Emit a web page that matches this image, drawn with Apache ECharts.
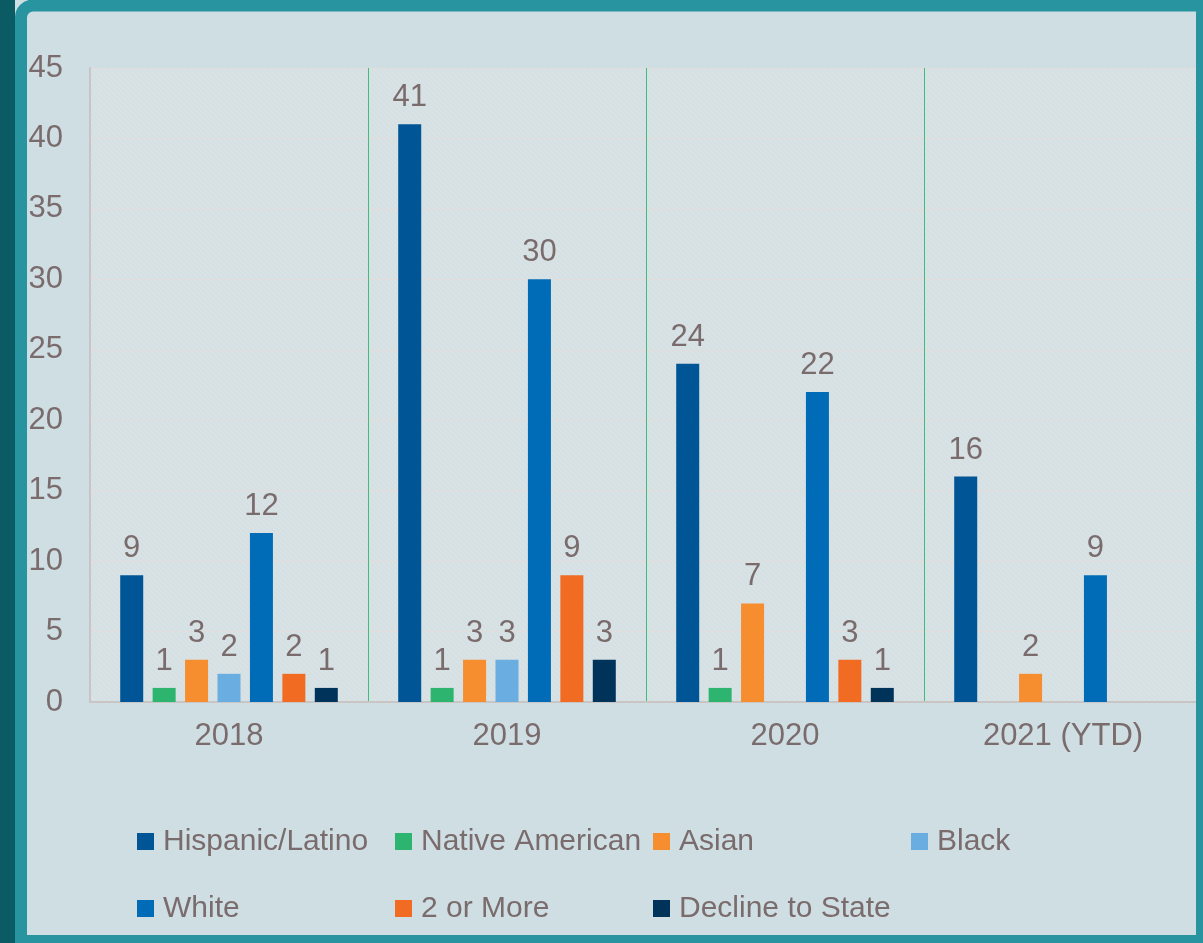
<!DOCTYPE html>
<html>
<head>
    <meta charset="utf-8"/>
    <title>Ethnicity by year</title>
    <script src="https://cdn.jsdelivr.net/npm/echarts@6/dist/echarts.min.js"></script>
    <style>
        html, body { margin: 0; padding: 0; background: #cfdee3; }
        #main { width: 1203px; height: 943px; }
    </style>
</head>
<body>
<div id="main"></div>
<script type="text/javascript">
    // data
    var years = ['2018', '2019', '2020', '2021 (YTD)'];
    var hispanic = [9, 41, 24, 16];
    var nativeAm = [1, 1, 1, null];
    var asian = [3, 3, 7, 2];
    var black = [2, 3, null, null];
    var white = [12, 30, 22, 9];
    var twoOrMore = [2, 9, 3, null];
    var decline = [1, 3, 1, null];
    var yTicks = [0, 5, 10, 15, 20, 25, 30, 35, 40, 45];

    var names = ['Hispanic/Latino', 'Native American', 'Asian', 'Black', 'White', '2 or More', 'Decline to State'];
    var values = [hispanic, nativeAm, asian, black, white, twoOrMore, decline];
    var colors = ['#005596', '#2db46f', '#f68d2e', '#6aade0', '#006cb7', '#f26b23', '#00335a'];

    var textColor = '#7a6b6c';
    var font = 'Liberation Sans';

    // hatched background of the plot area
    var tile = document.createElement('canvas');
    tile.width = 5;
    tile.height = 5;
    var ctx = tile.getContext('2d');
    ctx.fillStyle = '#d3e0e4';
    ctx.fillRect(0, 0, 5, 5);
    ctx.strokeStyle = '#dde3e5';
    ctx.lineWidth = 1.3;
    for (var k = -5; k <= 5; k += 5) {
        ctx.beginPath();
        ctx.moveTo(k, 0);
        ctx.lineTo(k + 5, 5);
        ctx.stroke();
    }

    var chart = echarts.init(document.getElementById('main'));

    var series = [];
    for (var i = 0; i < names.length; i++) {
        series.push({
            name: names[i],
            type: 'bar',
            data: values[i],
            barWidth: 23,
            barGap: '41%',
            itemStyle: {color: colors[i]},
            label: {
                show: true,
                position: 'top',
                distance: 11,
                color: textColor,
                fontFamily: font,
                fontSize: 31
            }
        });
    }

    // legend laid out as a 4-column grid
    var legendPos = [[137, 826], [395, 826], [653, 826], [911, 826], [137, 893], [395, 893], [653, 893]];
    var legends = [];
    for (var j = 0; j < names.length; j++) {
        legends.push({
            data: [names[j]],
            left: legendPos[j][0],
            top: legendPos[j][1],
            padding: 0,
            icon: 'rect',
            itemWidth: 17,
            itemHeight: 17,
            selectedMode: false,
            textStyle: {
                color: textColor,
                fontFamily: font,
                fontSize: 30,
                lineHeight: 31,
                padding: [0, 0, 0, 4]
            }
        });
    }

    chart.setOption({
        backgroundColor: '#cfdee3',
        animation: false,
        legend: legends,
        grid: {
            left: 90,
            right: 1,
            top: 68,
            bottom: 241,
            show: true,
            borderWidth: 0,
            backgroundColor: {image: tile, repeat: 'repeat'}
        },
        xAxis: {
            type: 'category',
            data: years,
            axisLine: {lineStyle: {color: '#c9c5c5', width: 2}},
            axisTick: {show: false},
            axisLabel: {
                color: textColor,
                fontFamily: font,
                fontSize: 31,
                margin: 19
            },
            splitLine: {
                show: true,
                interval: function (index) { return index > 0; },
                lineStyle: {color: '#3dbf7b', width: 1}
            }
        },
        yAxis: {
            type: 'value',
            min: yTicks[0],
            max: yTicks[yTicks.length - 1],
            interval: 5,
            axisLine: {show: true, lineStyle: {color: '#c9c5c5', width: 2}},
            axisTick: {show: false},
            axisLabel: {
                color: textColor,
                fontFamily: font,
                fontSize: 31,
                margin: 27
            },
            splitLine: {lineStyle: {color: '#e3dcdc', width: 1}}
        },
        series: series,
        graphic: [
            {
                type: 'rect',
                z: 100,
                shape: {x: 0, y: 0, width: 15, height: 943},
                style: {fill: '#0b5b64'}
            },
            {
                type: 'rect',
                z: 101,
                shape: {x: 21, y: 5.5, width: 1181, height: 935.5, r: [12, 0, 0, 0]},
                style: {fill: null, stroke: '#2794a0', lineWidth: 12}
            }
        ]
    });
</script>
</body>
</html>
